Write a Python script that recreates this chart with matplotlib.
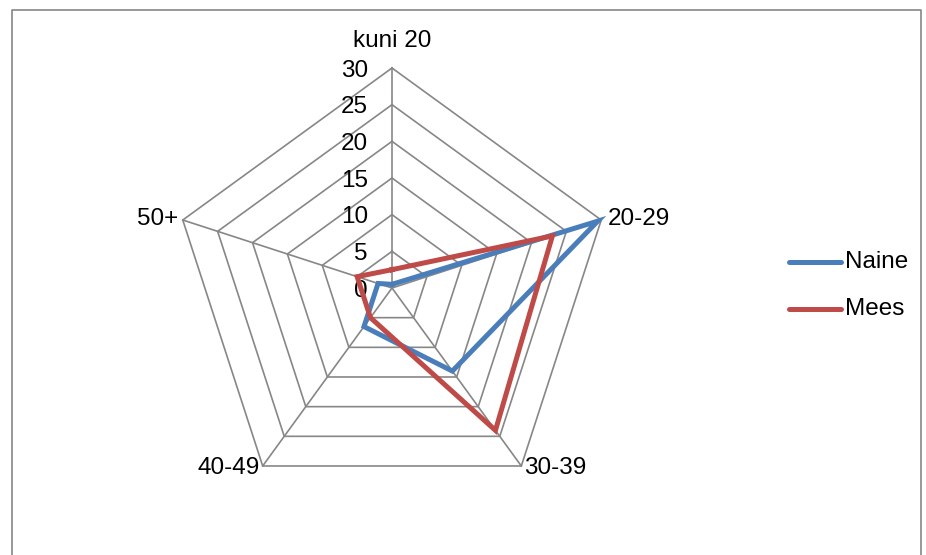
import numpy as np
import matplotlib
matplotlib.use("Agg")
import matplotlib.pyplot as plt
from matplotlib.lines import Line2D

categories = ["kuni 20", "20-29", "30-39", "40-49", "50+"]
naine = [0.5, 29.5, 14, 6.5, 2]
mees = [2.5, 23, 24, 5, 5]
ticks = [0, 5, 10, 15, 20, 25, 30]
rmax = 30

plt.rcParams["font.family"] = ["Liberation Sans", "DejaVu Sans"]
FS = 17.5

W, H = 926, 555
cx, cy = 392, 288          # centre in pixels
scale = 220 / rmax         # pixels per unit

fig = plt.figure(figsize=(W / 100, H / 100), dpi=100)
ax = fig.add_axes([0, 0, 1, 1])
ax.set_xlim(-cx / scale, (W - cx) / scale)
ax.set_ylim(-(H - cy) / scale, cy / scale)
ax.axis("off")

n = len(categories)
angles = np.pi / 2 - 2 * np.pi * np.arange(n) / n

def xy(vals):
    vals = np.asarray(vals, dtype=float)
    x = vals * np.cos(angles)
    y = vals * np.sin(angles)
    return np.append(x, x[0]), np.append(y, y[0])

grid_c = "#878787"
for t in ticks[1:]:
    gx, gy = xy([t] * n)
    ax.plot(gx, gy, color=grid_c, lw=1.2, zorder=1)
for a in angles:
    ax.plot([0, rmax * np.cos(a)], [0, rmax * np.sin(a)], color=grid_c, lw=1.2, zorder=1)

# value labels up the top spoke
for t in ticks:
    ax.text(-3.3, t - 0.35, str(t), ha="right", va="center", fontsize=FS)

# category labels
off = {
    "kuni 20": (0, 3.7, "center", "center"),
    "20-29": (0.9, 0.2, "left", "center"),
    "30-39": (0.4, -0.3, "left", "center"),
    "40-49": (-0.4, -0.3, "right", "center"),
    "50+": (-0.6, 0.2, "right", "center"),
}
for cat, a in zip(categories, angles):
    dx, dy, ha, va = off[cat]
    ax.text(rmax * np.cos(a) + dx, rmax * np.sin(a) + dy, cat,
            ha=ha, va=va, fontsize=FS)

blue = "#4A7EBB"
red = "#BE4B48"
nx, ny = xy(naine)
mx, my = xy(mees)
ax.plot(nx, ny, color=blue, lw=3.6, solid_joinstyle="miter", zorder=3)
ax.plot(mx, my, color=red, lw=3.6, solid_joinstyle="miter", zorder=4)

# legend entries
for name, col, ypx in [("Naine", blue, 262), ("Mees", red, 309)]:
    yf = 1 - ypx / H
    fig.add_artist(Line2D([789 / W, 841 / W], [yf, yf], transform=fig.transFigure,
                          color=col, lw=3.6, solid_capstyle="round"))
    fig.text(845 / W, yf, name, ha="left", va="center", fontsize=FS)

# chart area border
fig.add_artist(Line2D([12 / W, 12 / W, 921 / W, 921 / W],
                      [-0.05, 1 - 10 / H, 1 - 10 / H, -0.05],
                      transform=fig.transFigure, color="#868686", lw=1.2))

fig.savefig("out.png", dpi=100)
